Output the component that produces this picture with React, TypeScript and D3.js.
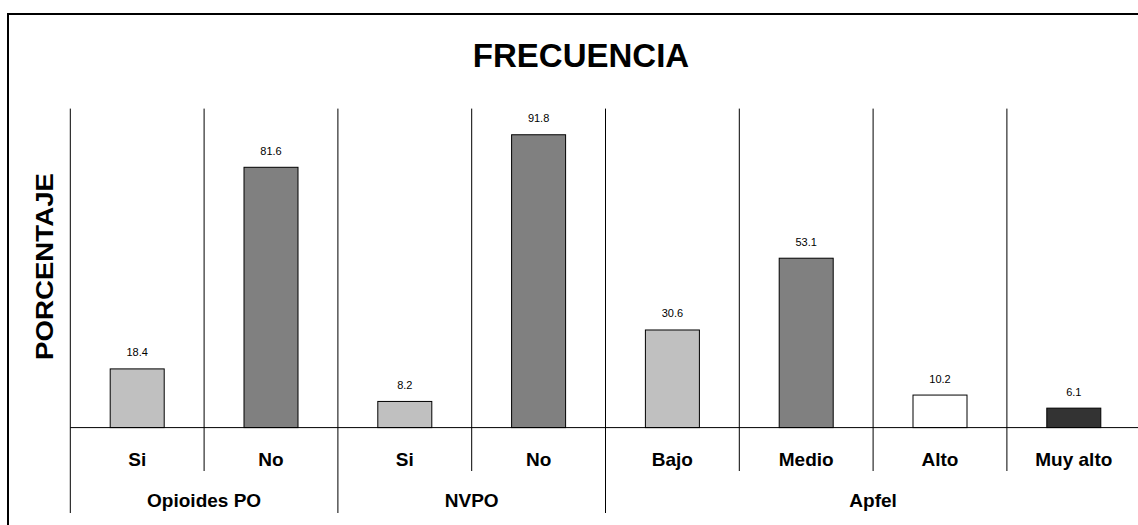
import React from "react";
import * as d3 from "d3";

// Categories, their groups and the percentage for each bar
const categories = ["Si", "No", "Si", "No", "Bajo", "Medio", "Alto", "Muy alto"];
const groupOfCategory = [0, 0, 1, 1, 2, 2, 2, 2];
const groups = ["Opioides PO", "NVPO", "Apfel"];
const values = [18.4, 81.6, 8.2, 91.8, 30.6, 53.1, 10.2, 6.1];
const fills = ["#c0c0c0", "#808080", "#c0c0c0", "#808080", "#c0c0c0", "#808080", "#ffffff", "#333333"];

const W = 1138;
const H = 525;
const FONT = "'Liberation Sans', Arial, Helvetica, sans-serif";

export default function App() {
  const left = 70.3;
  const step = 133.8;
  const x = d3
    .scaleBand<number>()
    .domain(d3.range(categories.length))
    .range([left, left + step * categories.length])
    .padding(0);
  const y = d3.scaleLinear().domain([0, 100]).range([427.6, 108.6]);
  const barW = 54;
  const baseY = y(0);
  const catLabelY = 466;
  const groupLabelY = 507;
  const shortTickEnd = 471;
  const longTickEnd = 513;

  // group extents in band index
  const groupSpans = groups.map((g, gi) => {
    const idx = groupOfCategory.map((v, i) => (v === gi ? i : -1)).filter((i) => i >= 0);
    return { name: g, start: d3.min(idx)!, end: d3.max(idx)! };
  });

  const boundaries = d3.range(categories.length + 1);
  const isGroupStart = (i: number) =>
    i === 0 || i === categories.length || groupOfCategory[i] !== groupOfCategory[i - 1];

  return (
    <svg
      width={W}
      height={H}
      style={{ position: "absolute", left: 0, top: 0, background: "#fff" }}
      fontFamily={FONT}
    >
      <rect x={0} y={0} width={W} height={H} fill="#fff" />
      {/* outer frame */}
      <rect x={8} y={14} width={W + 20} height={H + 20} fill="none" stroke="#000" strokeWidth={2} />

      {/* title */}
      <text x={581} y={66.5} textAnchor="middle" fontSize={33} fontWeight="bold" fill="#000">
        FRECUENCIA
      </text>

      {/* y axis title */}
      <text
        transform="translate(52.5,266.5) rotate(-90)"
        textAnchor="middle"
        fontSize={23}
        fontWeight="bold"
        fill="#000"
        textLength={187}
        lengthAdjust="spacingAndGlyphs"
      >
        PORCENTAJE
      </text>

      {/* vertical dividers */}
      {boundaries.map((i) => {
        const bx = left + step * i;
        return (
          <line
            key={"d" + i}
            x1={bx}
            x2={bx}
            y1={y(100)}
            y2={isGroupStart(i) ? longTickEnd : shortTickEnd}
            stroke="#000"
            strokeWidth={1}
          />
        );
      })}

      {/* bars */}
      {values.map((v, i) => {
        const cx = x(i)! + x.bandwidth() / 2;
        return (
          <g key={"b" + i}>
            <rect
              x={cx - barW / 2}
              y={y(v)}
              width={barW}
              height={baseY - y(v)}
              fill={fills[i]}
              stroke="#000"
              strokeWidth={1}
            />
            <text x={cx} y={y(v) - 12.5} textAnchor="middle" fontSize={11} fill="#000">
              {v.toFixed(1)}
            </text>
            <text x={cx} y={catLabelY} textAnchor="middle" fontSize={19} fontWeight="bold" fill="#000">
              {categories[i]}
            </text>
          </g>
        );
      })}

      {/* baseline */}
      <line x1={left} x2={W} y1={baseY} y2={baseY} stroke="#000" strokeWidth={1} />

      {/* group labels */}
      {groupSpans.map((g) => {
        const cx = (x(g.start)! + x(g.end)! + x.bandwidth()) / 2;
        return (
          <text key={g.name} x={cx} y={groupLabelY} textAnchor="middle" fontSize={19} fontWeight="bold" fill="#000">
            {g.name}
          </text>
        );
      })}
    </svg>
  );
}
